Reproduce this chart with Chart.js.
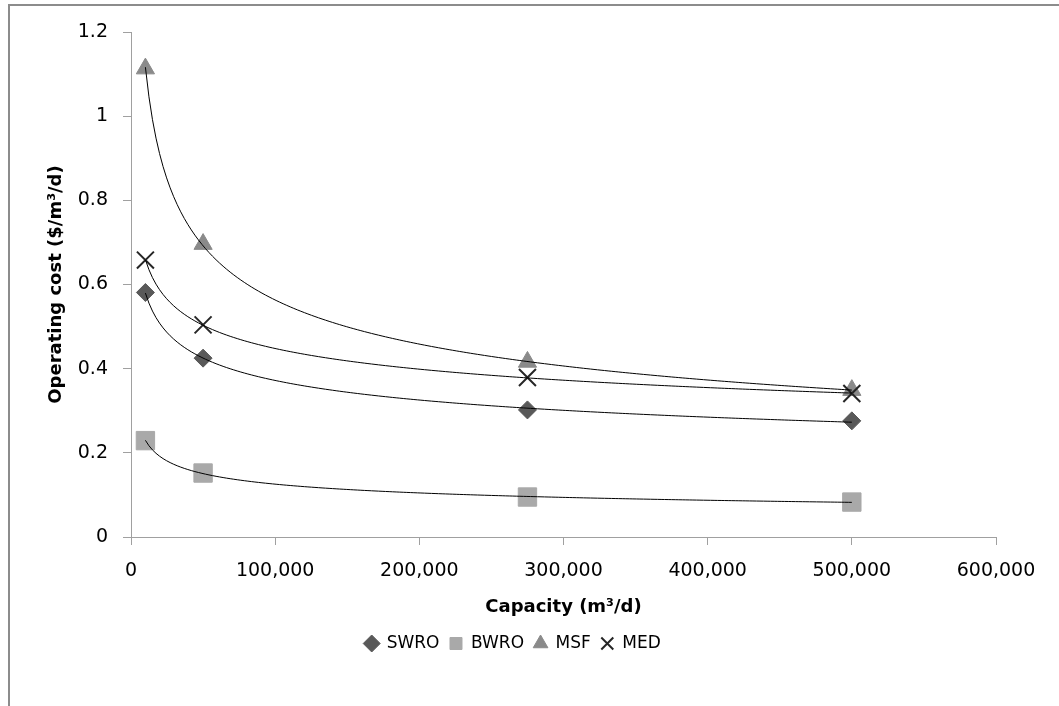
<!DOCTYPE html>
<html>
<head>
<meta charset="utf-8">
<script src="https://cdn.jsdelivr.net/npm/chart.js@4"></script>
<style>
  html, body { margin: 0; padding: 0; background: #fff; overflow: hidden; }
  #frame { position: absolute; left: 8px; top: 4px; width: 1200px; height: 900px; border: 2px solid #8c8c8c; box-sizing: border-box; }
  #wrap { position: absolute; left: 0; top: 0; width: 1059px; height: 706px; }
</style>
</head>
<body>
<div id="frame"></div>
<div id="wrap"><canvas id="c" width="1059" height="706"></canvas></div>
<script>
// ---- data ----
const capacities = [10000, 50000, 275000, 500000];
const swro = [0.581, 0.425, 0.302, 0.276];
const bwro = [0.229, 0.152, 0.095, 0.083];
const msf  = [1.113, 0.696, 0.416, 0.349];
const med  = [0.658, 0.504, 0.379, 0.341];
const seriesNames = ['SWRO', 'BWRO', 'MSF', 'MED'];
const xTickLabels = ['0', '100,000', '200,000', '300,000', '400,000', '500,000', '600,000'];
const yTickLabels = ['0', '0.2', '0.4', '0.6', '0.8', '1', '1.2'];

// power-law trendline (least squares in log space), like the spreadsheet trendline
function powerTrend(xs, ys, n) {
  const lx = xs.map(Math.log), ly = ys.map(Math.log);
  const m = lx.length;
  const mx = lx.reduce((a, b) => a + b, 0) / m, my = ly.reduce((a, b) => a + b, 0) / m;
  let sxy = 0, sxx = 0;
  for (let i = 0; i < m; i++) { sxy += (lx[i] - mx) * (ly[i] - my); sxx += (lx[i] - mx) ** 2; }
  const b = sxy / sxx, a = Math.exp(my - b * mx);
  const x0 = Math.min(...xs), x1 = Math.max(...xs);
  const pts = [];
  for (let i = 0; i <= n; i++) {
    const x = x0 + (x1 - x0) * i / n;
    pts.push({ x: x, y: a * Math.pow(x, b) });
  }
  return pts;
}
const toPts = ys => capacities.map((x, i) => ({ x: x, y: ys[i] }));

const seriesValues = [swro, bwro, msf, med];
const styles = [
  { pointStyle: 'rectRot', color: '#595959', r: 9, bw: 1 },
  { pointStyle: 'rect', color: '#a9a9a9', r: 13, bw: 1 },
  { pointStyle: 'triangle', color: '#8a8a8a', r: 10.5, bw: 1 },
  { pointStyle: 'crossRot', color: '#262626', r: 12, bw: 2 }
];

const datasets = [];
seriesValues.forEach((vals, i) => {
  datasets.push({
    type: 'line',
    label: 'trend ' + seriesNames[i],
    data: powerTrend(capacities, vals, 200),
    showLine: true, pointRadius: 0, pointHoverRadius: 0,
    borderColor: '#000', borderWidth: 1, fill: false, tension: 0,
    order: 1
  });
});
seriesValues.forEach((vals, i) => {
  const s = styles[i];
  datasets.push({
    type: 'scatter',
    label: seriesNames[i],
    data: toPts(vals),
    showLine: false,
    pointStyle: s.pointStyle,
    pointRadius: s.r, pointHoverRadius: s.r,
    backgroundColor: s.color, borderColor: s.color,
    borderWidth: s.bw, pointBorderWidth: s.bw,
    order: 2 + (3 - i)
  });
});

new Chart(document.getElementById('c'), {
  type: 'scatter',
  data: { datasets: datasets },
  options: {
    responsive: false,
    animation: false,
    layout: { padding: { left: 30, right: 63, top: 32, bottom: 44 } },
    plugins: {
      tooltip: { enabled: false },
      legend: {
        position: 'bottom',
        labels: {
          filter: item => seriesNames.includes(item.text),
          sort: (a, b) => seriesNames.indexOf(a.text) - seriesNames.indexOf(b.text),
          usePointStyle: true,
          boxWidth: 13, boxHeight: 12,
          padding: 10,
          color: '#000',
          font: { family: 'DejaVu Sans', size: 17 }
        }
      }
    },
    scales: {
      x: {
        type: 'linear', min: 0, max: 600000,
        afterFit: s => { s.height = 88; },
        ticks: {
          stepSize: 100000, color: '#000', padding: 15,
          font: { family: 'DejaVu Sans', size: 19 },
          callback: (v) => xTickLabels[Math.round(v / 100000)]
        },
        grid: { drawOnChartArea: false, drawTicks: true, tickLength: 8, color: '#a0a0a0' },
        border: { color: '#a0a0a0', width: 1 },
        title: {
          display: true, text: 'Capacity (m³/d)', color: '#000',
          font: { family: 'DejaVu Sans', size: 18, weight: 'bold' },
          padding: { top: 0, bottom: 7 }
        }
      },
      y: {
        type: 'linear', min: 0, max: 1.2,
        afterFit: s => { s.width = 101; },
        ticks: {
          stepSize: 0.2, color: '#000', padding: 15,
          font: { family: 'DejaVu Sans', size: 19 },
          callback: (v) => yTickLabels[Math.round(v / 0.2)]
        },
        grid: { drawOnChartArea: false, drawTicks: true, tickLength: 8, color: '#a0a0a0' },
        border: { color: '#a0a0a0', width: 1 },
        title: {
          display: true, text: 'Operating cost ($/m³/d)', color: '#000',
          font: { family: 'DejaVu Sans', size: 18, weight: 'bold' },
          padding: { top: 16, bottom: 0 }
        }
      }
    }
  }
});
</script>
</body>
</html>
